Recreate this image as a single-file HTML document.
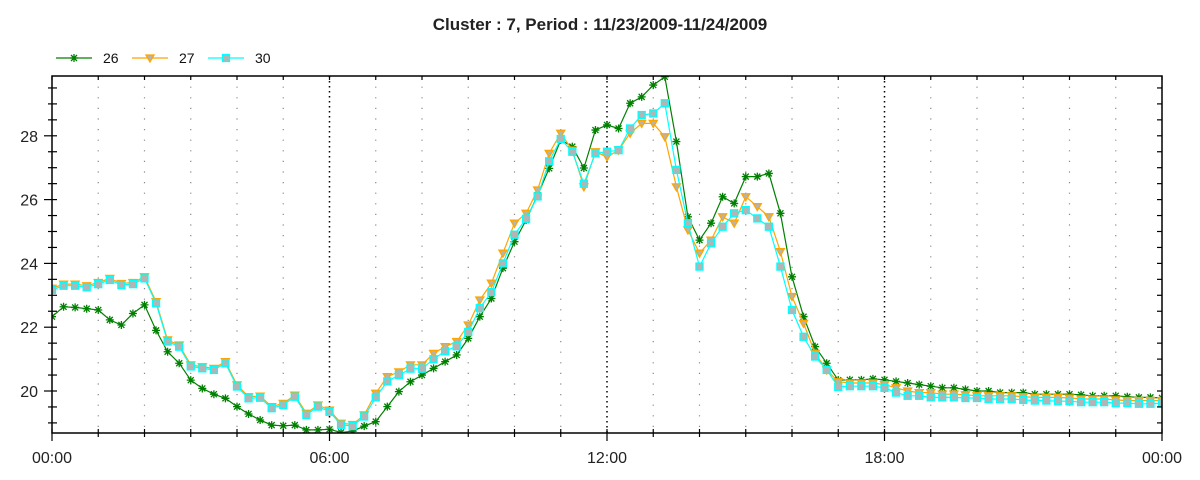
<!DOCTYPE html>
<html><head><meta charset="utf-8"><style>
html,body{margin:0;padding:0;background:#fff;}
svg{display:block;font-family:"Liberation Sans",Arial,sans-serif;}
</style></head><body>
<svg id="chart" width="1200" height="480" xmlns="http://www.w3.org/2000/svg">
<text x="600" y="30" text-anchor="middle" font-size="17" font-weight="bold" fill="#222">Cluster : 7, Period : 11/23/2009-11/24/2009</text>
<g id="legend"></g>
<g id="grid"></g>
<g id="series"></g>
<g id="axes"></g>
</svg>
<script>
const seriesNames = ["26","27","30"];
const tickLabelsX = ["00:00","06:00","12:00","18:00","00:00"];
const tickValuesY = [20,22,24,26,28];
const s26 = [22.33,22.64,22.62,22.58,22.54,22.23,22.07,22.43,22.7,21.9,21.23,20.87,20.34,20.08,19.9,19.77,19.51,19.28,19.09,18.93,18.91,18.93,18.78,18.78,18.8,18.7,18.74,18.9,19.04,19.51,19.98,20.29,20.5,20.71,20.92,21.13,21.65,22.33,22.9,23.85,24.68,25.36,26.14,26.98,27.87,27.66,26.99,28.18,28.34,28.23,29.02,29.22,29.59,29.85,27.82,25.46,24.73,25.26,26.09,25.88,26.72,26.72,26.82,25.57,23.58,22.33,21.39,20.87,20.34,
20.35,20.35,20.38,20.35,20.3,20.25,20.2,20.15,20.1,20.1,20.05,20.0,20.0,19.95,19.95,19.95,19.9,19.9,19.9,19.9,19.88,19.85,19.85,19.85,19.82,19.8,19.8,19.78];
const s27 = [23.22,23.35,23.35,23.3,23.4,23.53,23.37,23.4,23.58,22.8,21.6,21.44,20.82,20.76,20.71,20.92,20.19,19.82,19.84,19.51,19.61,19.87,19.3,19.56,19.4,18.99,18.95,19.25,19.93,20.45,20.6,20.82,20.82,21.18,21.39,21.55,22.07,22.85,23.38,24.32,25.26,25.57,26.3,27.45,28.08,27.55,26.4,27.5,27.34,27.55,28.08,28.39,28.39,27.97,26.4,25.05,24.32,24.73,25.46,25.26,26.09,25.78,25.46,24.37,22.96,22.12,21.18,20.66,20.29,
20.25,20.25,20.25,20.2,20.1,20.0,19.95,19.95,19.9,19.9,19.88,19.85,19.85,19.85,19.85,19.82,19.8,19.8,19.8,19.78,19.75,19.75,19.75,19.72,19.7,19.7,19.7,19.7];
const s30 = [23.17,23.3,23.3,23.25,23.35,23.48,23.32,23.35,23.53,22.75,21.55,21.39,20.77,20.71,20.66,20.87,20.14,19.77,19.79,19.46,19.56,19.82,19.25,19.51,19.35,18.94,18.9,19.2,
19.8,20.3,20.5,20.7,20.7,21.0,21.25,21.4,21.85,22.6,23.1,24.0,24.9,25.4,26.1,27.2,27.9,27.5,26.5,27.45,27.5,27.55,28.23,28.65,28.7,29.02,26.93,25.26,23.9,24.63,25.15,25.57,25.67,25.41,25.15,23.9,22.54,21.7,21.08,20.66,20.13,
20.15,20.15,20.15,20.1,19.95,19.85,19.85,19.8,19.8,19.8,19.78,19.78,19.75,19.75,19.75,19.72,19.7,19.7,19.68,19.68,19.65,19.65,19.65,19.62,19.62,19.6,19.6,19.62];

const NS="http://www.w3.org/2000/svg";
const L=52,R=1162,T=76,B=433;
const yMin=20-(B-391)/31.9, yMax=20+(391-T)/31.9;
function xS(h){return L+(R-L)*h/24;}
function yS(v){return B-(v-yMin)/(yMax-yMin)*(B-T);}
function mk(tag,attrs,parent){const e=document.createElementNS(NS,tag);for(const k in attrs)e.setAttribute(k,attrs[k]);parent.appendChild(e);return e;}
const svg=document.getElementById('chart');
const grid=document.getElementById('grid'),axes=document.getElementById('axes'),ser=document.getElementById('series'),leg=document.getElementById('legend');
const defs=mk('defs',{},svg);
const cp=mk('clipPath',{id:'clip'},defs);mk('rect',{x:L,y:T,width:R-L,height:B-T},cp);

// grid
for(let h=1;h<24;h++){
  const major=h%6===0;
  const g=mk('line',{x1:xS(h),x2:xS(h),y1:T,y2:B,stroke:major?'#000':'#888','stroke-width':major?1.5:1.2,'stroke-dasharray':major?'1.5,3.5':'1.2,9.4'},grid);
  
  
}
// axes frame
const fr=mk('rect',{x:L,y:T,width:R-L,height:B-T,fill:'none',stroke:'#000','stroke-width':1.5},axes);


// x ticks
for(let h=0;h<=24;h++){
  const major=h%6===0;const x=xS(h);
  mk('line',{x1:x,x2:x,y1:B-4,y2:B+(major?8:4),stroke:'#000','stroke-width':1.2},axes);
  mk('line',{x1:x,x2:x,y1:T,y2:T+4,stroke:'#000','stroke-width':1.2},axes);
}
tickLabelsX.forEach((t,i)=>{
  const tx=mk('text',{x:xS(i*6),y:463,'text-anchor':'middle','font-size':16,fill:'#222'},axes);
  tx.textContent=t;
  
  
});
// y ticks
for(let v=Math.ceil(yMin*2)/2;v<=yMax;v+=0.5){
  const y=yS(v);const major=Math.abs(v-Math.round(v/2)*2)<1e-6;
  mk('line',{x1:L-(major?8:4),x2:L+5,y1:y,y2:y,stroke:'#000','stroke-width':1.2},axes);
  mk('line',{x1:R-5,x2:R,y1:y,y2:y,stroke:'#000','stroke-width':1.2},axes);
}
tickValuesY.forEach(v=>{
  const tx=mk('text',{x:38,y:yS(v)+6,'text-anchor':'end','font-size':16,fill:'#222'},axes);
  tx.textContent=v;
  
  
});

const styles=[{c:'#008000',m:'star'},{c:'#ffa500',m:'tri'},{c:'#00ffff',m:'sq'}];
function marker(type,x,y,color,parent){
  if(type==='star'){
    const g=mk('path',{d:`M${x-4},${y}H${x+4}M${x},${y-4}V${y+4}M${x-3},${y-3}L${x+3},${y+3}M${x-3},${y+3}L${x+3},${y-3}`,stroke:color,'stroke-width':1.3,fill:'none'},parent);return g;
  } else if(type==='tri'){
    return mk('path',{d:`M${x-4},${y-3}H${x+4}L${x},${y+4}Z`,fill:'#b4b4b4',stroke:color,'stroke-width':1.3},parent);
  } else {
    return mk('rect',{x:x-3.5,y:y-3.5,width:7,height:7,fill:'#b4b4b4',stroke:color,'stroke-width':1.3},parent);
  }
}
[s26,s27,s30].forEach((data,si)=>{
  const st=styles[si];
  const g=mk('g',{'clip-path':'url(#clip)'},ser);
  
  
  const pts=data.map((v,i)=>xS(i*0.25).toFixed(1)+','+yS(v).toFixed(1)).join(' ');
  const pl=mk('polyline',{points:pts,fill:'none',stroke:st.c,'stroke-width':1.2},g);
  
  
  data.forEach((v,i)=>{
    const m=marker(st.m,xS(i*0.25),yS(v),st.c,g);
    
    
  });
});
// legend
seriesNames.forEach((n,i)=>{
  const x0=56+i*76,y=58;
  const g=mk('g',{},leg);
  
  
  mk('line',{x1:x0,x2:x0+36,y1:y,y2:y,stroke:styles[i].c,'stroke-width':1.2},g);
  marker(styles[i].m,x0+18,y,styles[i].c,g);
  const t=mk('text',{x:x0+47,y:y+5,'font-size':14,fill:'#111'},g);
  t.textContent=n;
});
</script>
</body></html>
